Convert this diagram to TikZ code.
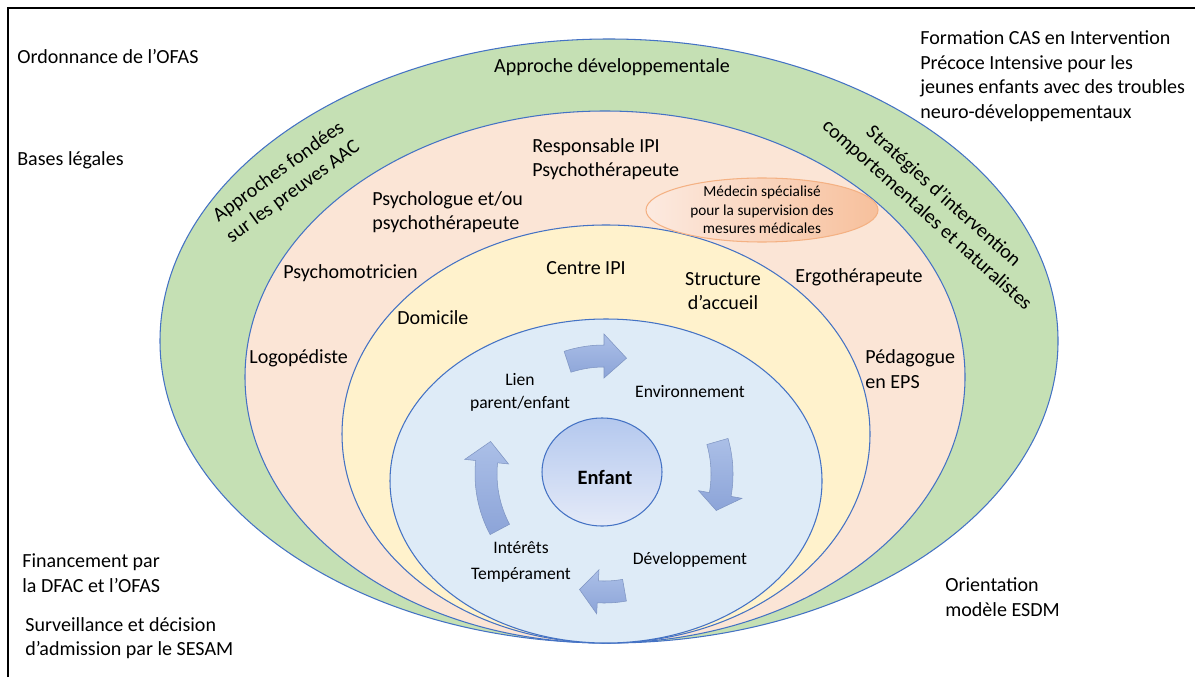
\documentclass[tikz,border=0pt]{standalone}
\usepackage{fontspec}
\setmainfont{Carlito}
\usepackage{xcolor}
\usepackage{tikz}
\usetikzlibrary{shapes,shapes.geometric,calc,positioning}
\definecolor{ringgreen}{HTML}{C5E0B4}
\definecolor{ringpink}{HTML}{FBE5D6}
\definecolor{ringyellow}{HTML}{FFF2CC}
\definecolor{ringblue}{HTML}{DEEBF7}
\definecolor{ringline}{HTML}{4472C4}
\definecolor{medlight}{HTML}{FCEAE0}
\definecolor{meddark}{HTML}{F7C09C}
\definecolor{medline}{HTML}{F4B183}
\definecolor{arrowtop}{HTML}{ABBFE7}
\definecolor{arrowbot}{HTML}{8CA4D8}
\definecolor{kidtop}{HTML}{B4C8EE}
\definecolor{kidbot}{HTML}{E4EAF8}
\tikzset{
  ring/.style={draw=ringline, line width=0.6pt},
  txt/.style={font=\fontsize{11.4}{14}\selectfont, inner sep=0pt, align=left, anchor=west},
  ctxt/.style={font=\fontsize{11.4}{14}\selectfont, inner sep=0pt, align=center},
  cyctxt/.style={font=\fontsize{10}{13}\selectfont, inner sep=0pt, align=center},
  medtxt/.style={font=\fontsize{8.7}{10.4}\selectfont, inner sep=0pt, align=center},
  cycarrow/.style={top color=arrowtop, bottom color=arrowbot, draw=arrowbot!90!black, line width=0.3pt}
}
% start angle, head base angle, tip angle
\newcommand{\cyclearrow}[3]{%
  \path[cycarrow] (#1:129) arc[start angle=#1, end angle=#2, radius=129] -- (#2:140) -- (#3:118)
    -- (#2:96) -- (#2:107) arc[start angle=#2, end angle=#1, radius=107] -- cycle;}

\begin{document}
\begin{tikzpicture}[x=0.02cm, y=0.02cm]
  \useasboundingbox (0,0) rectangle (1195,677);
  \draw[line width=1.7pt] (8,0) -- (8,669) -- (1195,669);

  % rings
  \path[ring, fill=ringgreen] (609,336) ellipse [x radius=449, y radius=302];
  \path[ring, fill=ringpink] (605,300) ellipse [x radius=360, y radius=266];
  \path[ring, fill=ringyellow] (606,243) ellipse [x radius=264, y radius=209];
  \path[ring, fill=ringblue] (606,196) ellipse [x radius=216, y radius=162];
  \path[draw=medline, left color=medlight, right color=meddark, line width=0.6pt] (762,467) ellipse [x radius=116, y radius=32];
  \path[ring, top color=kidtop, bottom color=kidbot] (602,205) ellipse [x radius=60, y radius=54];

  \begin{scope}[shift={(604,203)}]
    \cyclearrow{108}{90}{79}
    \cyclearrow{16}{-10}{-18}
    \cyclearrow{-80}{-93}{-102}
    \cyclearrow{208}{174}{164}
  \end{scope}

  % outside
  \node[txt] (ofas) at (17,620) {Ordonnance de l’OFAS};
  \node[txt] (bases) at (17,517) {Bases légales};
  \node[txt] (finance) at (22,104) {Financement par\\la DFAC et l’OFAS};
  \node[txt] (sesam) at (25,39) {Surveillance et décision\\d’admission par le SESAM};
  \node[txt] (cas) at (920,601) {Formation CAS en Intervention\\Précoce Intensive pour les\\jeunes enfants avec des troubles\\neuro-développementaux};
  \node[txt] (esdm) at (945,80) {Orientation\\modèle ESDM};

  % green ring
  \node[ctxt] (devap) at (612,610) {Approche développementale};
  \node[ctxt, rotate=36] (aac) at (286,495) {Approches fondées\\sur les preuves AAC};
  \node[ctxt, rotate=-42] (strat) at (935,471) {Stratégies d’intervention\\comportementales et naturalistes};

  % pink ring
  \node[txt] (resp) at (532,518) {Responsable IPI\\Psychothérapeute};
  \node[txt] (psylog) at (372,465) {Psychologue et/ou\\psychothérapeute};
  \node[medtxt] (medecin) at (762,467) {Médecin spécialisé\\pour la supervision des\\mesures médicales};
  \node[txt] (psymot) at (283,404) {Psychomotricien};
  \node[txt] (logo) at (249,319) {Logopédiste};
  \node[txt] (ergo) at (795,400) {Ergothérapeute};
  \node[txt] (peda) at (865,308) {Pédagogue\\en EPS};

  % yellow ring
  \node[txt] (domicile) at (397,359) {Domicile};
  \node[ctxt] (centre) at (586,409) {Centre IPI};
  \node[ctxt] (accueil) at (723,386) {Structure\\d’accueil};

  % blue ring
  \node[cyctxt] (lien) at (520,285) {Lien\\parent/enfant};
  \node[cyctxt] (envir) at (690,285) {Environnement};
  \node[cyctxt] (devel) at (690,117) {Développement};
  \node[cyctxt] (inter) at (521,129) {Intérêts};
  \node[cyctxt] (temper) at (521,102) {Tempérament};
  \node[ctxt, font=\fontsize{11.6}{14}\selectfont\bfseries] (enfant) at (605,200) {Enfant};
\end{tikzpicture}
\end{document}
